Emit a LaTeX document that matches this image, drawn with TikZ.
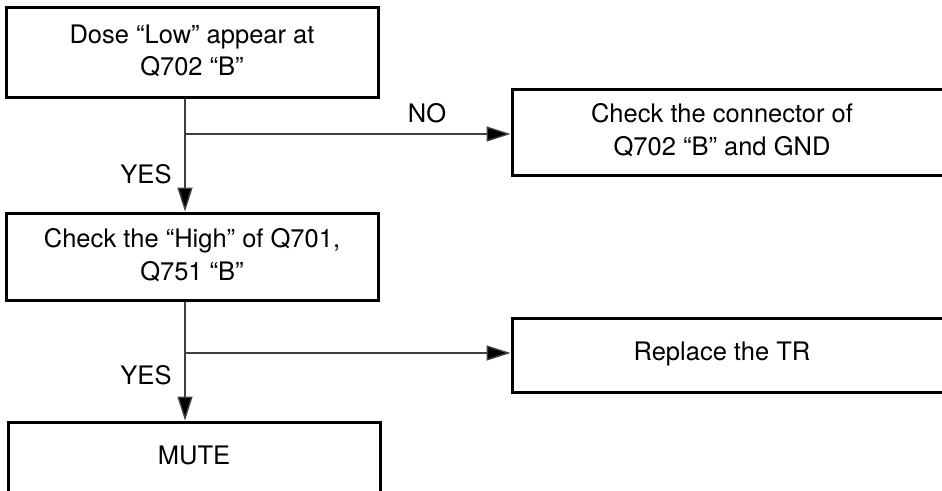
\documentclass[tikz,border=0pt]{standalone}
\usepackage{fontspec}
\setmainfont{TeX Gyre Heros}
\usetikzlibrary{arrows.meta}
\begin{document}
\begin{tikzpicture}[x=1pt,y=-1pt,
  txt/.style={font=\fontsize{25.5}{32.5}\selectfont, align=center, inner sep=0pt},
  box/.style={draw=black, line width=3pt, inner sep=0pt},
  conn/.style={line width=1.4pt, draw=black!75},
  arr/.style={conn, -{Triangle[length=24pt,width=15pt,fill=black]}}]
\useasboundingbox (0,0) rectangle (942,490);
\clip (0,0) rectangle (942,490);
% left column boxes
\node[box, minimum width=372pt, minimum height=90pt] (b1) at (192,52) {};
\node[txt] (b1t) at (192,51) {Dose “Low” appear at\\Q702 “B”};
\node[box, minimum width=372pt, minimum height=87pt] (b2) at (192,256.5) {};
\node[txt] (b2t) at (192,255) {Check the “High” of Q701,\\Q751 “B”};
\node[box, minimum width=372pt, minimum height=120pt] (b3) at (194,482) {};
\node[txt] (b3t) at (194,455) {MUTE};
% right column boxes (clipped at the right edge)
\node[box, minimum width=480pt, minimum height=86pt] (r1) at (752,132) {};
\node[txt] (r1t) at (722,130) {Check the connector of\\Q702 “B” and GND};
\node[box, minimum width=480pt, minimum height=74pt] (r2) at (752,355) {};
\node[txt] (r2t) at (722,353.5) {Replace the TR};
% junctions
\coordinate (j1) at (185,134);
\coordinate (j2) at (185,353);
% connectors
\draw[arr] (b1.south -| j1) -- (b2.north -| j1);
\draw[arr] (b2.south -| j2) -- (b3.north -| j2);
\draw[arr] (j1) -- (j1 -| r1.west);
\draw[arr] (j2) -- (j2 -| r2.west);
% labels
\node[txt] (yes1) at (146,174) {YES};
\node[txt] (yes2) at (146,375) {YES};
\node[txt] (no1) at (427,113) {NO};
\end{tikzpicture}
\end{document}
